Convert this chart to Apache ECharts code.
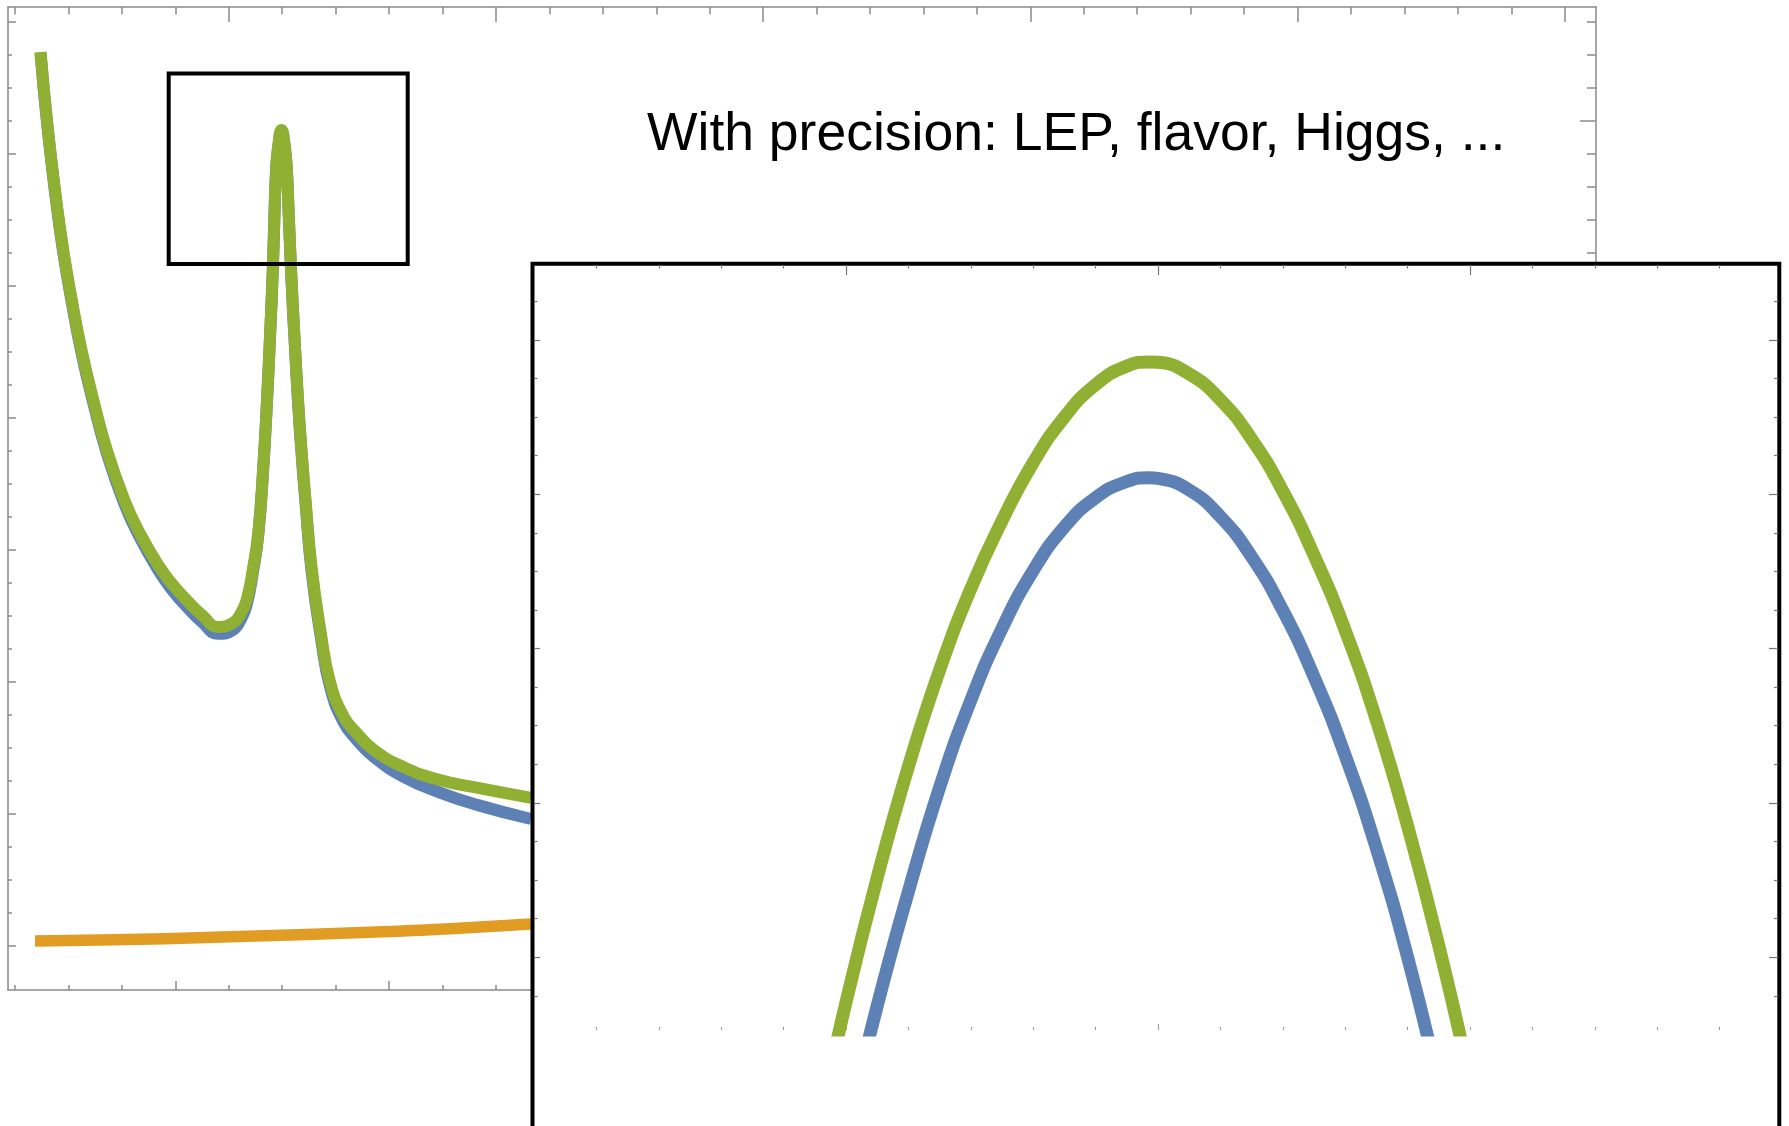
<!DOCTYPE html>
<html><head><meta charset="utf-8">
<script src="https://cdn.jsdelivr.net/npm/echarts@6/dist/echarts.min.js"></script>
<style>html,body{margin:0;padding:0;background:#fff}#c{width:1789px;height:1126px}</style>
</head><body><div id="c"></div>
<script>
// ---------- Main plot (unitless: 1 unit = one minor tick) ----------
const mainGreen = [[0.477,27.08],[0.608,24.84],[0.771,22.60],[0.902,21.08],[1.061,19.57],[1.244,18.05],[1.465,16.54],[1.718,15.02],[2.045,13.51],[2.330,12.51],[2.702,11.48],[2.957,10.93],[3.209,10.48],[3.499,10.02],[3.804,9.66],[4.079,9.78],[4.229,10.08],[4.336,10.48],[4.459,11.48],[4.553,12.51],[4.646,14.52],[4.716,16.54],[4.775,18.57],[4.826,20.58],[4.863,22.60],[4.886,23.51],[4.921,24.17],[4.987,24.72],[5.052,24.17],[5.090,23.45],[5.112,22.60],[5.150,21.08],[5.193,19.57],[5.243,18.05],[5.296,16.54],[5.361,15.02],[5.436,13.51],[5.548,11.48],[5.722,9.48],[5.900,7.96],[6.153,6.94],[6.390,6.45],[6.718,5.93],[7.260,5.42],[7.953,5.02],[8.664,4.78],[9.656,4.48]];
const mainBlue = [[0.477,27.05],[0.608,24.81],[0.771,22.54],[0.902,21.02],[1.061,19.51],[1.244,17.97],[1.465,16.45],[1.718,14.93],[2.045,13.40],[2.330,12.39],[2.702,11.33],[2.957,10.75],[3.209,10.28],[3.499,9.81],[3.804,9.45],[4.079,9.57],[4.229,9.90],[4.336,10.33],[4.459,11.39],[4.553,12.45],[4.646,14.47],[4.716,16.51],[4.775,18.54],[4.826,20.55],[4.863,22.57],[4.886,23.48],[4.921,24.14],[4.987,24.69],[5.052,24.14],[5.090,23.42],[5.112,22.57],[5.150,21.05],[5.193,19.54],[5.243,18.02],[5.296,16.48],[5.361,14.94],[5.436,13.42],[5.548,11.37],[5.722,9.36],[5.900,7.82],[6.153,6.76],[6.390,6.25],[6.718,5.72],[7.260,5.13],[7.953,4.64],[8.664,4.26],[9.656,3.84]];
const mainOrange = [[0.374,0.14],[1.591,0.17],[4.023,0.27],[6.886,0.42],[8.308,0.53],[9.656,0.66]];

// ---------- Inset (zoom on the peak) ----------
const insetGreen = [[-0.5,-4.76],[0,-1.17],[0.5,2.06],[1,4.94],[1.5,7.44],[2,9.55],[2.5,11.31],[3,12.82],[3.5,14.00],[4,14.84],[4.5,15.32],[4.87,15.43],[5,15.42],[5.5,15.12],[6,14.45],[6.5,13.43],[7,12.08],[7.5,10.42],[8,8.47],[8.5,6.14],[9,3.40],[9.5,0.30],[10,-3.20],[10.5,-7.0]];
const insetBlue = [[-0.5,-8.26],[0,-4.58],[0.5,-1.26],[1,1.70],[1.5,4.40],[2,6.66],[2.5,8.52],[3,10.02],[3.5,11.15],[4,11.91],[4.5,12.33],[4.86,12.43],[5,12.41],[5.5,12.11],[6,11.42],[6.5,10.38],[7,8.99],[7.5,7.27],[8,5.23],[8.5,2.82],[9,0.00],[9.5,-3.30],[10,-6.9]];

// ---------- Tick positions ----------
const mainXTopMajor = [4,9,14,19,24,29];
const mainXTopMinor = [0,1,2,3,5,6,7,8,10,11,12,13,15,16,17,18,20,21,22,23,25,26,27,28];
const mainXBottomMajor = [3,7,11,15,19,23,27];
const mainXBottomMinor = [0,1,2,4,5,6,8,9,10,12,13,14,16,17,18,20,21,22,24,25,26,28,29];
const mainYLeftMajor = [0,4,8,12,16,20,24,28];
const mainYLeftMinor = [1,2,3,5,6,7,9,10,11,13,14,15,17,18,19,21,22,23,25,26,27];
const mainYRightMajor = [5,10,15,20,25];
const mainYRightMinor = [21,22,23,24,26,27,28];
const insetXTopMajor = [0,5,10];
const insetXTopMinor = [-4,-3,-2,-1,1,2,3,4,6,7,8,9,11,12,13,14];
const insetXBottomMajor = [5];
const insetXBottomMinor = [-4,-3,-2,-1,0,1,2,3,4,6,7,8,9,10,11,12,13,14];
const insetYMajor = [0,4,8,12,16];
const insetYMinor = [-1,1,2,3,5,6,7,9,10,11,13,14,15,17];

const GREEN = '#8fb032', BLUE = '#5e81b5', ORANGE = '#e19c24';
const GRAY = '#8a8a8a';

const MAIN_X = [-0.131, 29.585], MAIN_Y = [-1.342, 28.445];
const INS_X = [-5, 14.936], INS_Y = [-1.887, 17.942];

function ax(grid, pos, range, ticks, len, line, z, color, w) {
  return {
    type: 'value', gridIndex: grid, position: pos, min: range[0], max: range[1], z: z,
    axisLine: {show: line, onZero: false, lineStyle: {color: color, width: 1.5}},
    axisTick: {show: true, inside: true, length: len, customValues: ticks, lineStyle: {color: color, width: w}},
    axisLabel: {show: false},
    splitLine: {show: false}
  };
}

function line(xi, data, color, width, z) {
  return {type: 'line', xAxisIndex: xi, yAxisIndex: xi, data: data, showSymbol: false, symbol: 'none',
          smooth: 0.5, z: z, lineStyle: {color: color, width: width, cap: 'butt', join: 'round'}};
}

const chart = echarts.init(document.getElementById('c'), null, {renderer: 'canvas'});
chart.setOption({
  animation: false,
  backgroundColor: '#fff',
  grid: [
    {left: 8, top: 7, right: 193, bottom: 136},
    {left: 534, top: 265, right: 11, bottom: 96}
  ],
  xAxis: [
    ax(0, 'bottom', MAIN_X, mainXBottomMajor, 9, true, 0, GRAY, 1.5),
    ax(0, 'bottom', MAIN_X, mainXBottomMinor, 5, false, 0, GRAY, 1.5),
    ax(0, 'top', MAIN_X, mainXTopMajor, 15, true, 0, GRAY, 1.5),
    ax(0, 'top', MAIN_X, mainXTopMinor, 7.5, false, 0, GRAY, 1.5),
    ax(1, 'top', INS_X, insetXTopMajor, 10, false, 4, '#777', 1.2),
    ax(1, 'top', INS_X, insetXTopMinor, 3.5, false, 4, '#777', 1.2),
    ax(1, 'bottom', INS_X, insetXBottomMajor, 6, false, 4, '#999', 1),
    ax(1, 'bottom', INS_X, insetXBottomMinor, 3, false, 4, '#999', 1)
  ],
  yAxis: [
    ax(0, 'left', MAIN_Y, mainYLeftMajor, 8, true, 0, GRAY, 1.5),
    ax(0, 'left', MAIN_Y, mainYLeftMinor, 4, false, 0, GRAY, 1.5),
    ax(0, 'right', MAIN_Y, mainYRightMajor, 16, true, 0, GRAY, 1.5),
    ax(0, 'right', MAIN_Y, mainYRightMinor, 9, false, 0, GRAY, 1.5),
    ax(1, 'left', INS_Y, insetYMajor, 6, false, 4, '#777', 1.2),
    ax(1, 'left', INS_Y, insetYMinor, 3.5, false, 4, '#777', 1.2),
    ax(1, 'right', INS_Y, insetYMajor, 9, false, 4, '#777', 1.2),
    ax(1, 'right', INS_Y, insetYMinor, 4, false, 4, '#777', 1.2)
  ],
  series: [
    line(0, mainOrange, ORANGE, 11.5, 2),
    line(0, mainBlue, BLUE, 12, 2),
    line(0, mainGreen, GREEN, 12, 2),
    line(4, insetBlue, BLUE, 13, 5),
    line(4, insetGreen, GREEN, 13, 5)
  ],
  graphic: [
    {type: 'rect', z: 3, shape: {x: 532.5, y: 263.7, width: 1246.8, height: 900},
     style: {fill: '#fff', stroke: '#000', lineWidth: 4}},
    {type: 'rect', z: 4, shape: {x: 168.7, y: 73.5, width: 239, height: 190.5},
     style: {fill: null, stroke: '#000', lineWidth: 4}},
    {type: 'text', z: 6, x: 647, y: 135,
     style: {text: 'With precision: LEP, flavor, Higgs, ...', fontSize: 53.5, fontFamily: '"Liberation Sans", Arial, sans-serif',
             fill: '#000', align: 'left', verticalAlign: 'middle', textAlign: 'left', textVerticalAlign: 'middle'}}
  ]
});
</script>
</body></html>
